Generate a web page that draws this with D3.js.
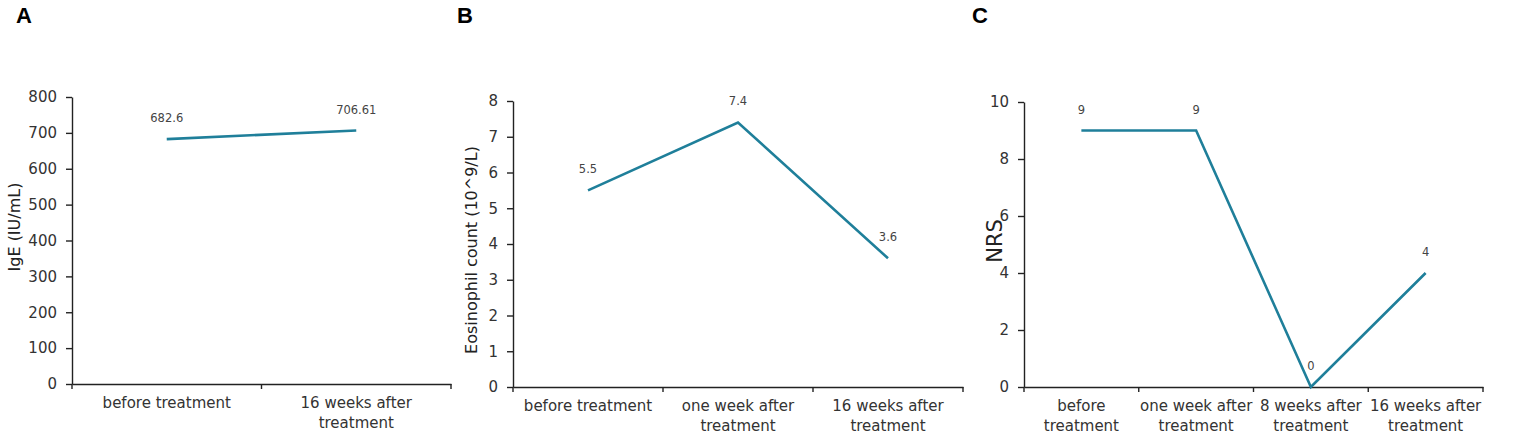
<!DOCTYPE html>
<html>
<head>
<meta charset="utf-8">
<script src="https://cdn.jsdelivr.net/npm/d3@7"></script>
<style>
  body { margin: 0; background: #fff; }
  svg { display: block; }
</style>
</head>
<body>
<div class="canvas"></div>
<script>
// data
const catsA = ['before treatment', '16 weeks after treatment']
const valuesA = [682.6, 706.61]
const ticksA = [0, 100, 200, 300, 400, 500, 600, 700, 800]

const catsB = ['before treatment', 'one week after treatment', '16 weeks after treatment']
const valuesB = [5.5, 7.4, 3.6]
const ticksB = [0, 1, 2, 3, 4, 5, 6, 7, 8]

const catsC = ['before treatment', 'one week after treatment', '8 weeks after treatment', '16 weeks after treatment']
const valuesC = [9, 9, 0, 4]
const ticksC = [0, 2, 4, 6, 8, 10]

const lineColor = '#1f7f9a'
const font = '"DejaVu Sans", sans-serif'

const svg = d3.select('.canvas').append('svg').attr('width', 1535).attr('height', 442)

// wrap category labels to the band width
const wrap = (text, width) => {
    text.each(function () {
        const t = d3.select(this)
        const words = t.text().split(/\s+/)
        t.text(null)
        let line = []
        let lineNo = 0
        let tspan = t.append('tspan').attr('x', 0).attr('dy', 0)
        words.forEach(w => {
            line.push(w)
            tspan.text(line.join(' '))
            if (tspan.node().getComputedTextLength() > width && line.length > 1) {
                line.pop()
                tspan.text(line.join(' '))
                line = [w]
                lineNo++
                tspan = t.append('tspan').attr('x', 0).attr('dy', 20).text(w)
            }
        })
    })
}

const drawPanel = (p) => {
    const g = svg.append('g')

    const x = d3.scaleBand().domain(p.cats).range([p.left, p.right])
    const y = d3.scaleLinear().domain([0, p.ticks[p.ticks.length - 1]]).range([p.bottom, p.top])

    // y axis
    const yAxisGroup = g.append('g').attr('transform', `translate(${p.left},0)`)
    yAxisGroup.call(d3.axisLeft(y).tickValues(p.ticks).tickSize(6).tickPadding(9).tickSizeOuter(0))
    yAxisGroup.select('.domain').attr('stroke', '#222').attr('stroke-width', 1.4)
    yAxisGroup.selectAll('.tick line').attr('stroke', '#222').attr('stroke-width', 1.4)
    yAxisGroup.selectAll('text').attr('font-family', font).attr('font-size', 15).attr('fill', '#333')

    // x axis, ticks sit on the band boundaries
    const xAxisGroup = g.append('g').attr('transform', `translate(0,${p.bottom})`)
    xAxisGroup.call(d3.axisBottom(x).tickSize(0).tickPadding(0).tickSizeOuter(0))
    xAxisGroup.select('.domain').attr('stroke', '#222').attr('stroke-width', 1.4)
    xAxisGroup.selectAll('text')
        .attr('font-family', font).attr('font-size', 15).attr('fill', '#333')
        .attr('y', 24).attr('dy', 0)
        .call(wrap, x.step())
    const bounds = p.cats.map(c => x(c)).concat([p.right])
    xAxisGroup.selectAll('.bound').data(bounds).enter().append('line')
        .attr('class', 'bound')
        .attr('x1', d => d).attr('x2', d => d)
        .attr('y1', 0).attr('y2', 5)
        .attr('stroke', '#222').attr('stroke-width', 1.4)

    // the line
    const pts = p.cats.map((c, i) => [x(c) + x.bandwidth() / 2, y(p.values[i])])
    g.append('path')
        .attr('d', d3.line()(pts))
        .attr('fill', 'none')
        .attr('stroke', lineColor)
        .attr('stroke-width', 2.6)
        .attr('stroke-linejoin', 'miter')

    // value labels
    g.selectAll('.val').data(p.values).enter().append('text')
        .attr('class', 'val')
        .attr('x', (d, i) => pts[i][0])
        .attr('y', (d, i) => pts[i][1] - 17)
        .attr('text-anchor', 'middle')
        .attr('font-family', font).attr('font-size', 11.5).attr('fill', '#444')
        .text(d => String(d))

    // y title
    g.append('text')
        .attr('transform', `translate(${p.titleX},${p.titleY}) rotate(-90)`)
        .attr('text-anchor', 'middle')
        .attr('font-family', font).attr('font-size', p.titleSize).attr('fill', '#222')
        .text(p.title)

    // panel letter
    svg.append('text')
        .attr('x', p.letterX).attr('y', 23)
        .attr('font-family', '"Liberation Sans", Arial, sans-serif')
        .attr('font-weight', 'bold').attr('font-size', 22).attr('fill', '#000')
        .text(p.letter)
}

drawPanel({
    cats: catsA, values: valuesA, ticks: ticksA,
    left: 72, right: 451, top: 97, bottom: 384,
    title: 'IgE (IU/mL)', titleX: 20, titleY: 227, titleSize: 16,
    letter: 'A', letterX: 16
})

drawPanel({
    cats: catsB, values: valuesB, ticks: ticksB,
    left: 513, right: 963, top: 101, bottom: 387,
    title: 'Eosinophil count (10^9/L)', titleX: 477, titleY: 250, titleSize: 16,
    letter: 'B', letterX: 457
})

drawPanel({
    cats: catsC, values: valuesC, ticks: ticksC,
    left: 1024, right: 1483, top: 102, bottom: 387,
    title: 'NRS', titleX: 1002, titleY: 241, titleSize: 21,
    letter: 'C', letterX: 972
})
</script>
</body>
</html>
